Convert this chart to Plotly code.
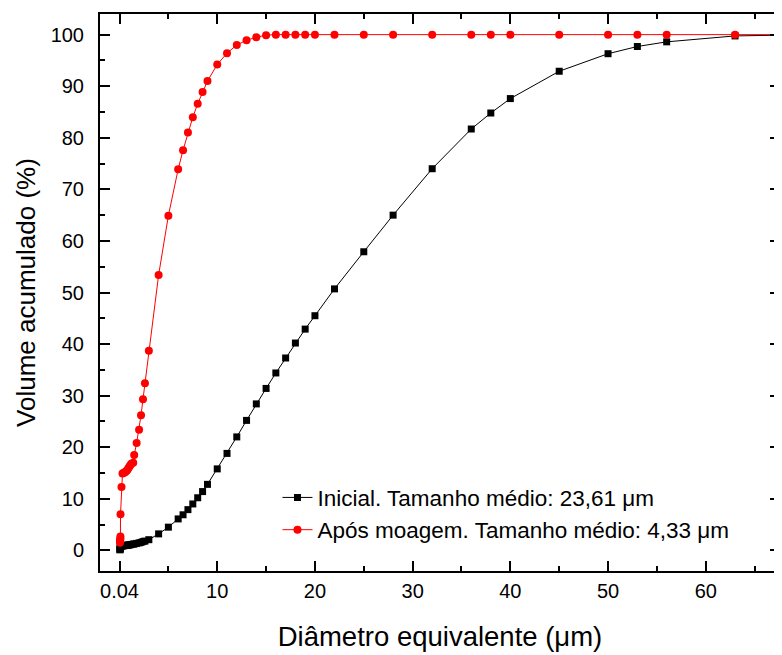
import plotly.graph_objects as go

# Data
x_inicial = [0.04, 0.05, 0.06, 0.07, 0.08, 0.09, 0.1, 0.2, 0.3, 0.4, 0.5, 0.6, 0.7, 0.8, 0.9, 1.0,
             1.1, 1.2, 1.4, 1.5, 1.75, 2.0, 2.2, 2.4, 2.6, 3, 4, 5, 6, 6.5, 7, 7.5, 8, 8.5, 9, 10,
             11, 12, 13, 14, 15, 16, 17, 18, 19, 20, 22, 25, 28, 32, 36, 38, 40, 45, 50, 53, 56, 63, 71]
y_inicial = [0.1, 0.2, 0.3, 0.4, 0.5, 0.6, 0.7, 0.8, 0.85, 0.9, 0.92, 0.95, 0.98, 1.0, 1.03, 1.06,
             1.1, 1.15, 1.2, 1.25, 1.35, 1.45, 1.55, 1.7, 1.8, 2.07, 3.2, 4.5, 6.1, 6.9, 7.9, 9.0, 10.2, 11.4, 12.8, 15.8,
             18.8, 22.0, 25.2, 28.4, 31.4, 34.4, 37.3, 40.2, 42.9, 45.5, 50.7, 57.9, 65.0, 74.0, 81.7, 84.8, 87.6, 92.9, 96.3, 97.7, 98.6, 99.75, 100]

x_moagem = [0.04, 0.05, 0.06, 0.07, 0.08, 0.09, 0.1, 0.2, 0.3, 0.4, 0.5, 0.6, 0.7, 0.8, 0.9, 1.0,
            1.1, 1.2, 1.4, 1.5, 1.75, 2.0, 2.2, 2.4, 2.6, 3, 4, 5, 6, 6.5, 7, 7.5, 8, 8.5, 9, 10,
            11, 12, 13, 14, 15, 16, 17, 18, 19, 20, 22, 25, 28, 32, 36, 38, 40, 45, 50, 53, 56, 63, 71]
y_moagem = [1.5, 1.7, 1.9, 2.1, 2.3, 2.7, 7.0, 12.3, 14.9, 15.0, 15.1, 15.2, 15.4, 15.6, 15.9, 16.2,
            16.5, 16.8, 17.0, 18.5, 20.8, 23.4, 26.2, 29.3, 32.4, 38.7, 53.4, 64.9, 73.9, 77.6, 81.0, 84.0, 86.6, 88.9, 91.0, 94.2,
            96.4, 98.0, 98.9, 99.5, 99.9, 100, 100, 100, 100, 100, 100, 100, 100, 100, 100, 100, 100, 100, 100, 100, 100, 100, 100]

x_tickvals = [0, 10, 20, 30, 40, 50, 60]
x_ticktext = ["0.04", "10", "20", "30", "40", "50", "60"]
y_tickvals = [0, 10, 20, 30, 40, 50, 60, 70, 80, 90, 100]

name_inicial = "Inicial. Tamanho médio: 23,61 μm"
name_moagem = "Após moagem. Tamanho médio: 4,33 μm"

FONT = "Liberation Sans, Arial, sans-serif"

fig = go.Figure()
fig.add_trace(go.Scatter(
    x=x_inicial, y=y_inicial, mode="lines+markers", name=name_inicial,
    legendgroup="a",
    line=dict(color="black", width=1),
    marker=dict(symbol="square", size=7, color="black"),
))
fig.add_trace(go.Scatter(
    x=x_moagem, y=y_moagem, mode="lines+markers", name=name_moagem,
    legendgroup="b",
    line=dict(color="#ff0000", width=1),
    marker=dict(symbol="circle", size=8, color="#ff0000"),
))

fig.update_layout(
    width=774, height=647,
    margin=dict(l=92, r=0, t=6, b=84),
    paper_bgcolor="white", plot_bgcolor="white",
    font=dict(family=FONT, color="black", size=20),
    showlegend=True,
    legend=dict(
        x=0.261, y=0.170, xanchor="left", yanchor="top",
        bgcolor="rgba(0,0,0,0)", borderwidth=0,
        font=dict(size=22.5, family=FONT),
        tracegroupgap=0,
    ),
    xaxis=dict(
        range=[-2, 67.6], tickvals=x_tickvals, ticktext=x_ticktext,
        showgrid=False, zeroline=False,
        showline=True, linecolor="black", linewidth=2, mirror="ticks",
        ticks="inside", ticklen=10, tickwidth=1.5, tickcolor="black",
        minor=dict(dtick=5, tick0=0, ticks="inside", ticklen=5, tickwidth=1.5, tickcolor="black"),
        tickfont=dict(size=20),
        ticklabelstandoff=1,
        title=dict(text="Diâmetro equivalente (μm)", font=dict(size=27.5), standoff=26),
    ),
    yaxis=dict(
        range=[-4, 104], tickvals=y_tickvals,
        showgrid=False, zeroline=False,
        showline=True, linecolor="black", linewidth=2, mirror="ticks",
        ticks="inside", ticklen=10, tickwidth=1.5, tickcolor="black",
        minor=dict(dtick=5, tick0=0, ticks="inside", ticklen=5, tickwidth=1.5, tickcolor="black"),
        tickfont=dict(size=20),
        ticklabelstandoff=10,
        title=dict(text="Volume acumulado (%)", font=dict(size=26), standoff=8),
    ),
)

fig.write_html("out.html")
